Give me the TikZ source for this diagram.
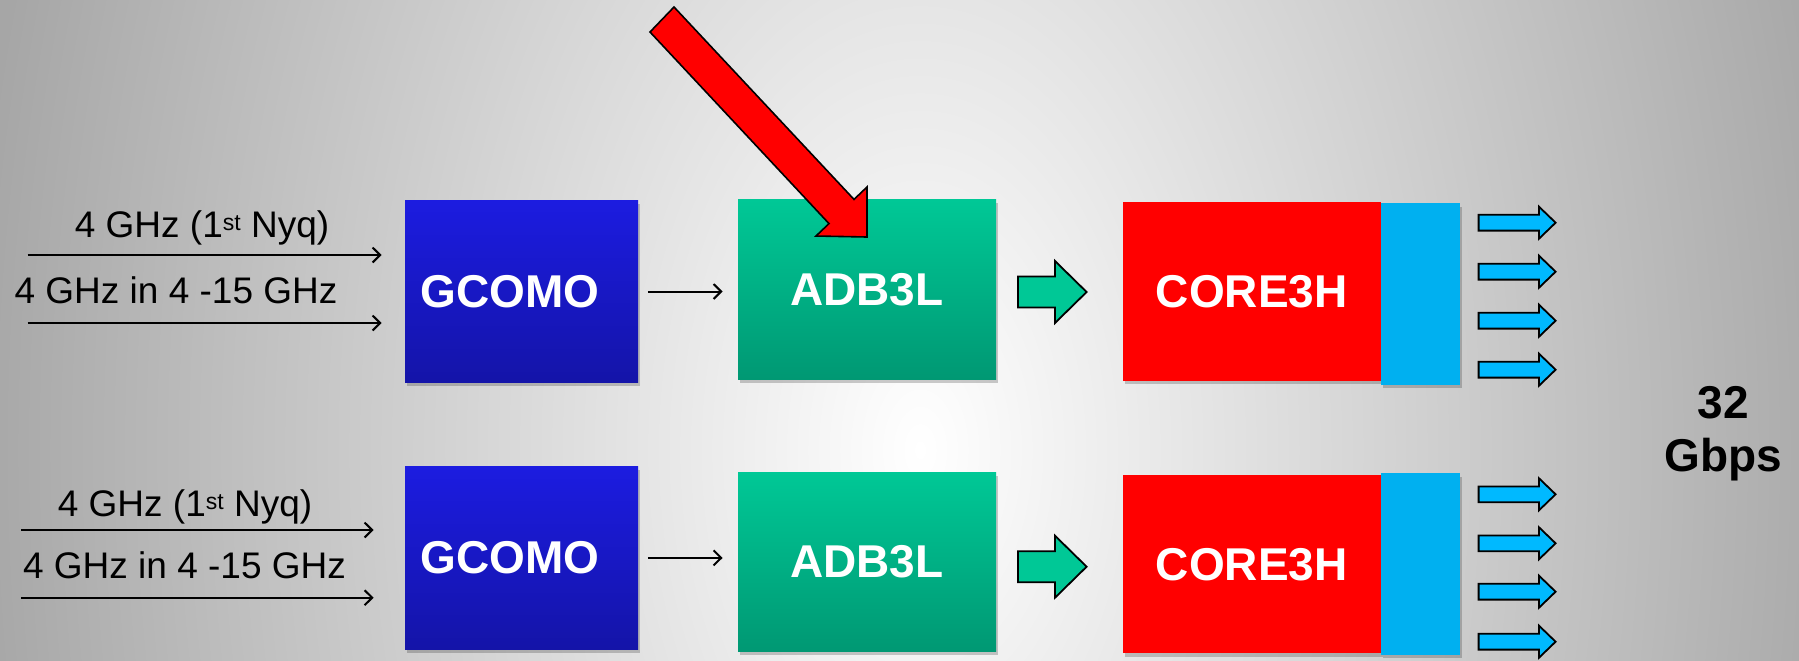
\documentclass[tikz,border=0pt]{standalone}
\usepackage{fontspec}
\setmainfont{Liberation Sans}
\usetikzlibrary{arrows.meta,shadows}
\definecolor{bgOut}{RGB}{166,166,166}
\definecolor{gcTop}{RGB}{28,28,224}
\definecolor{gcBot}{RGB}{20,20,168}
\definecolor{adTop}{RGB}{0,200,150}
\definecolor{adBot}{RGB}{0,152,115}
\definecolor{coreRed}{RGB}{255,0,0}
\definecolor{sideCyan}{RGB}{0,176,240}
\definecolor{arrCyan}{RGB}{0,185,255}
\definecolor{grArrow}{RGB}{0,200,150}
\newcommand\smallsup[1]{\raisebox{3.5pt}{\fontsize{11.5pt}{12pt}\selectfont #1}}
\tikzset{
  blockbox/.style={draw=none, inner sep=0pt, text=white,
    font=\fontsize{23pt}{27pt}\selectfont\bfseries,
    drop shadow={shadow xshift=1.2pt, shadow yshift=-1.8pt, opacity=0.2, fill=black}},
  gcbox/.style={blockbox, top color=gcTop, bottom color=gcBot, minimum width=116.5pt, minimum height=91.2pt},
  adbox/.style={blockbox, top color=adTop, bottom color=adBot, minimum width=129pt, minimum height=89.75pt},
  corebox/.style={blockbox, fill=coreRed, minimum width=128.75pt, minimum height=89.25pt},
  sidebox/.style={blockbox, fill=sideCyan, minimum width=39.6pt, minimum height=90.75pt},
  lbl/.style={anchor=base, inner sep=0pt, font=\fontsize{18.5pt}{22pt}\selectfont},
  sig/.style={line width=1pt, -{Straight Barb[length=3.8pt,width=7.5pt,line width=1pt]}},
  blk/.style={draw=black, line width=0.9pt, line join=miter},
  garrow/.pic={\draw[blk, fill=grArrow] (0,-15.5) -- (37,-15.5) -- (37,-31) -- (68.6,0) -- (37,31) -- (37,15.5) -- (0,15.5) -- cycle;},
  carrow/.pic={\draw[blk, fill=arrCyan] (0,-7.9) -- (60.4,-7.9) -- (60.4,-16) -- (77,0) -- (60.4,16) -- (60.4,7.9) -- (0,7.9) -- cycle;}
}
\begin{document}
\begin{tikzpicture}[x=0.5pt,y=-0.5pt]
\useasboundingbox (0,0) rectangle (1799,660);
% background
\begin{scope}
  \clip (0,0) rectangle (1799,660);
  \shade[inner color=white, outer color=bgOut] (-30,-1100) rectangle (1870,2000);
\end{scope}

% blocks, top row
\node[gcbox] (gc1) at (521.5,291.5) {GCOMO\kern11.5pt};
\node[adbox] (ad1) at (867,289.5) {ADB3L};
\node[corebox] (co1) at (1251.75,291.5) {CORE3H};
\node[sidebox] (sd1) at (1420.1,294) {};
% blocks, bottom row
\node[gcbox] (gc2) at (521.5,557.9) {GCOMO\kern11.5pt};
\node[adbox] (ad2) at (867,561.9) {ADB3L};
\node[corebox] (co2) at (1251.75,564.2) {CORE3H};
\node[sidebox] (sd2) at (1420.1,563.8) {};

% input labels
\node[lbl] (l1a) at (202,237) {4 GHz (1\smallsup{st} Nyq)};
\node[lbl] (l1b) at (176,303) {4 GHz in 4 -15 GHz};
\node[lbl] (l2a) at (185,516.7) {4 GHz (1\smallsup{st} Nyq)};
\node[lbl] (l2b) at (184.5,578) {4 GHz in 4 -15 GHz};

% input arrows
\coordinate (i1a) at (27.5,255);
\coordinate (i1b) at (27.5,323);
\coordinate (i2a) at (21,530);
\coordinate (i2b) at (21,597.7);
\draw[sig, shorten >=11.5pt] (i1a) -- (i1a -| gc1.west);
\draw[sig, shorten >=11.5pt] (i1b) -- (i1b -| gc1.west);
\draw[sig, shorten >=15.5pt] (i2a) -- (i2a -| gc2.west);
\draw[sig, shorten >=15.5pt] (i2b) -- (i2b -| gc2.west);

% GCOMO -> ADB3L
\draw[sig, shorten <=4.75pt, shorten >=7.5pt] (gc1.east) -- (gc1.east -| ad1.west);
\draw[sig, shorten <=4.75pt, shorten >=7.5pt] (gc2.east) -- (gc2.east -| ad2.west);

% ADB3L -> CORE3H block arrows
\pic at (1018,292) {garrow};
\pic at (1018,566.7) {garrow};

% output arrows
\foreach \yy in {222.7,271.7,320.7,369.7,494.3,543.3,591.7,641.7}
  \pic at (1478.6,\yy) {carrow};

% red pointer arrow
\draw[draw=black, line width=0.8pt, fill=red, line join=miter]
  (674,7) -- (854,199.4) -- (867,187) -- (867,237) -- (816,236) -- (829,223.6) -- (650,32) -- cycle;

% rate label
\node[align=center, inner sep=0pt, font=\fontsize{23pt}{26.5pt}\selectfont\bfseries] (rate) at (1723,434) {32\\Gbps};
\end{tikzpicture}
\end{document}
